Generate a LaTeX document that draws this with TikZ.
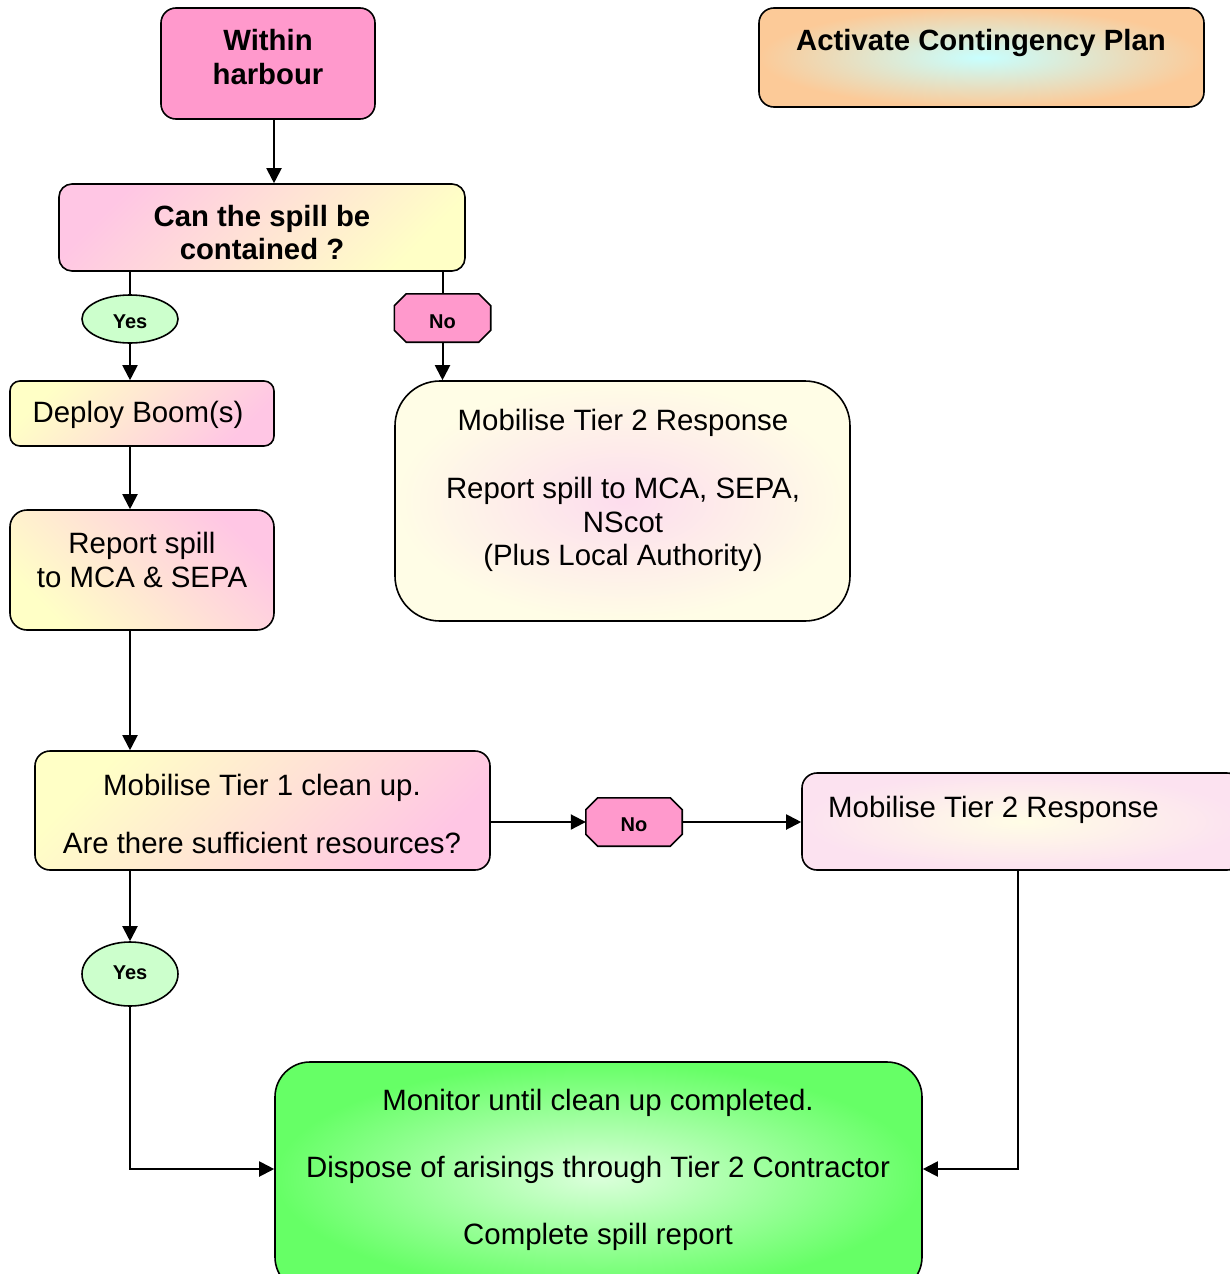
\documentclass[tikz,border=0pt]{standalone}
\usepackage{fontspec}
\setmainfont{Liberation Sans}
\usetikzlibrary{shapes.geometric,arrows.meta}
\definecolor{pk}{HTML}{FF99CC}
\definecolor{lpk}{HTML}{FFC6E4}
\definecolor{lyl}{HTML}{FFFFC6}
\definecolor{org}{HTML}{FCCA98}
\definecolor{cyn}{HTML}{C8FFFF}
\definecolor{ygr}{HTML}{CCFFCC}
\definecolor{grn}{HTML}{66FF66}
\definecolor{pal}{HTML}{FFFDE6}
\definecolor{ppk}{HTML}{FCE2F0}
\begin{document}
\begin{tikzpicture}[x=1pt,y=-1pt,
  box/.style={draw=black, line width=1.6pt, inner sep=0pt, shape=rectangle},
  txt/.style={anchor=base, inner sep=0pt, font=\fontsize{29.4}{33}\selectfont},
  btxt/.style={anchor=base, inner sep=0pt, font=\fontsize{29.3}{33}\selectfont\bfseries},
  stxt/.style={anchor=base, inner sep=0pt, font=\fontsize{20}{24}\selectfont\bfseries},
  conn/.style={line width=2pt},
  arr/.style={line width=2pt, -{Triangle[length=15pt,width=15pt]}},
  yesnode/.style={draw=black, line width=1.6pt, ellipse, fill=ygr, inner sep=0pt, minimum width=96pt},
  noshape/.style={draw=black, line width=1.6pt, fill=pk}
]
\useasboundingbox (0,0) rectangle (1229,1274);

% ---- boxes ----
\node[box, minimum width=214, minimum height=111, rounded corners=15, fill=pk] (wh) at (268,63.5) {};
\node[box, minimum width=445, minimum height=99, rounded corners=15, inner color=cyn, outer color=org] (acp) at (981.5,57.5) {};
\node[box, minimum width=406, minimum height=87, rounded corners=13, top color=lpk, bottom color=lyl, shading angle=45] (cs) at (262,227.5) {};
\node[box, minimum width=264, minimum height=65, rounded corners=10, top color=lyl, bottom color=lpk, shading angle=45] (db) at (142,413.5) {};
\node[box, minimum width=264, minimum height=120, rounded corners=17, top color=lpk, bottom color=lyl, shading angle=-45] (rs) at (142,570) {};
\node[box, minimum width=455, minimum height=240, rounded corners=45, inner color=ppk!80!lpk, outer color=pal] (tb) at (622.5,501) {};
\node[box, minimum width=455, minimum height=119, rounded corners=15, top color=lyl, bottom color=lpk, shading angle=45] (t1) at (262.5,810.5) {};
\node[box, minimum width=440, minimum height=97, rounded corners=15, inner color=pal, outer color=ppk] (r2) at (1022,821.5) {};
\node[box, minimum width=647, minimum height=230, rounded corners=35, inner color=ygr!70!white, outer color=grn] (gr) at (598.5,1177) {};

% ---- yes / no labels ----
\node[yesnode, minimum height=48] (y1) at (130,319) {};
\node[yesnode, minimum height=64] (y2) at (130,974) {};
\node[minimum width=96, minimum height=48, inner sep=0pt] (n1) at (442.5,318) {};
\node[minimum width=96, minimum height=48, inner sep=0pt] (n2) at (634,822) {};
\foreach \n in {n1,n2}{
  \draw[noshape] ([xshift=12]\n.north west) -- ([xshift=-12]\n.north east)
    -- ([yshift=-12]\n.north east) -- ([yshift=12]\n.south east)
    -- ([xshift=-12]\n.south east) -- ([xshift=12]\n.south west)
    -- ([yshift=12]\n.south west) -- ([yshift=-12]\n.north west) -- cycle;
}

% ---- texts ----
\node[btxt] (wha) at (268,50) {Within};
\node[btxt] (whb) at (268,84) {harbour};
\node[btxt] (acpt) at (981,50) {Activate Contingency Plan};
\node[btxt] (csa) at (262,226) {Can the spill be};
\node[btxt] (csb) at (262,259) {contained ?};
\node[stxt] (y1t) at (130,328) {Yes};
\node[stxt] (n1t) at (442.5,328) {No};
\node[txt] (dbt) at (138,422) {Deploy Boom(s)};
\node[txt] (rsa) at (142,553) {Report spill};
\node[txt] (rsb) at (142,587) {to MCA \& SEPA};
\node[txt] (tba) at (623,430) {Mobilise Tier 2 Response};
\node[txt] (tbb) at (623,498) {Report spill to MCA, SEPA,};
\node[txt] (tbc) at (623,532) {NScot};
\node[txt] (tbd) at (623,565) {(Plus Local Authority)};
\node[txt] (t1a) at (262,795) {Mobilise Tier 1 clean up.};
\node[txt] (t1b) at (262,853) {Are there sufficient resources?};
\node[stxt] (n2t) at (634,831) {No};
\node[txt, anchor=base west] (r2t) at (828,817) {Mobilise Tier 2 Response};
\node[stxt] (y2t) at (130,979) {Yes};
\node[txt] (gra) at (598,1110) {Monitor until clean up completed.};
\node[txt] (grb) at (598,1177) {Dispose of arisings through Tier 2 Contractor};
\node[txt] (grc) at (598,1244) {Complete spill report};

% ---- connectors ----
\coordinate (xa) at (274,0);
\coordinate (xb) at (130,0);
\coordinate (xc) at (442.5,0);
\coordinate (xd) at (1018,0);
\coordinate (ym) at (0,1169);
\draw[arr] (wh.south -| xa) -- (cs.north -| xa);
\draw[conn] (cs.south -| xb) -- (y1.north);
\draw[arr] (y1.south) -- (db.north -| xb);
\draw[conn] (cs.south -| xc) -- (n1.north);
\draw[arr] (n1.south) -- (tb.north -| xc);
\draw[arr] (db.south -| xb) -- (rs.north -| xb);
\draw[arr] (rs.south -| xb) -- (t1.north -| xb);
\draw[arr] (t1.east |- n2) -- (n2.west);
\draw[arr] (n2.east) -- (r2.west |- n2);
\draw[arr] (t1.south -| xb) -- (y2.north);
\draw[arr] (y2.south) |- (gr.west |- ym);
\draw[arr] (r2.south -| xd) |- (gr.east |- ym);
\end{tikzpicture}
\end{document}
